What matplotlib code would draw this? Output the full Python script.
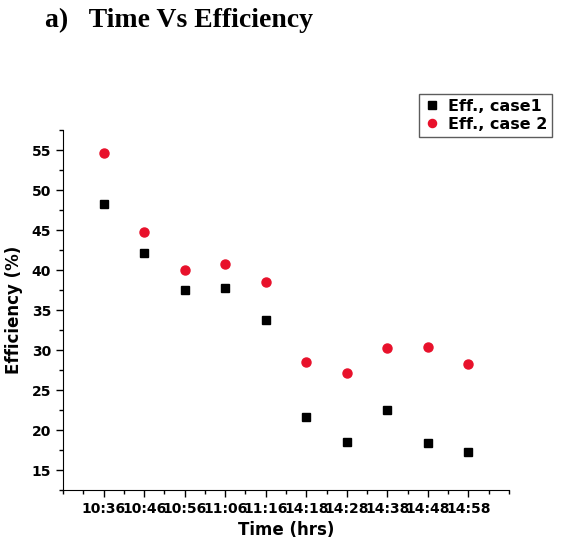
import numpy as np
import matplotlib.pyplot as plt
from matplotlib.ticker import MultipleLocator

times = ['10:36', '10:46', '10:56', '11:06', '11:16', '14:18', '14:28', '14:38', '14:48', '14:58']
eff_case1 = [48.3, 42.1, 37.5, 37.7, 33.8, 21.6, 18.5, 22.5, 18.4, 17.2]
eff_case2 = [54.6, 44.8, 40.0, 40.8, 38.5, 28.5, 27.1, 30.2, 30.4, 28.2]

red = '#e8112b'

fig = plt.figure(figsize=(5.74, 5.44), dpi=100)
ax = fig.add_axes([63 / 574, 54 / 544, 446 / 574, 360 / 544])

x = np.arange(1, len(times) + 1)
ax.plot(x, eff_case1, 's', ms=6, color='black', label='Eff., case1')
ax.plot(x, eff_case2, 'o', ms=6.5, color=red, label='Eff., case 2')

ax.set_xlim(0, 11)
ax.set_ylim(12.5, 57.5)
ax.set_xticks(x)
ax.set_xticklabels(times, fontsize=10, fontweight='bold')
ax.xaxis.set_minor_locator(MultipleLocator(0.5))
ax.yaxis.set_minor_locator(MultipleLocator(2.5))
ax.set_yticks(range(15, 56, 5))
for lab in ax.get_yticklabels():
    lab.set_fontsize(10)
    lab.set_fontweight('bold')
ax.tick_params(which='major', direction='out', length=5, width=1)
ax.tick_params(which='minor', direction='out', length=3, width=1)
ax.spines['top'].set_visible(False)
ax.spines['right'].set_visible(False)

ax.set_xlabel('Time (hrs)', fontsize=12, fontweight='bold', labelpad=4)
ax.set_ylabel('Efficiency (%)', fontsize=12, fontweight='bold', labelpad=6)

fig.text(45 / 574, 1 - 20 / 544, 'a)   Time Vs Efficiency', fontsize=20, fontweight='bold',
         family='Liberation Serif', va='center', ha='left')

leg = fig.legend(loc='upper right', bbox_to_anchor=(560 / 574, 1 - 86 / 544),
                 prop={'weight': 'bold', 'size': 11.5}, frameon=True, fancybox=False,
                 handletextpad=0.5, borderpad=0.3, labelspacing=0.2, handlelength=1.0,
                 markerscale=0.9)
leg.get_frame().set_edgecolor('#333333')
leg.get_frame().set_linewidth(1)

plt.savefig('out.png', dpi=100)
